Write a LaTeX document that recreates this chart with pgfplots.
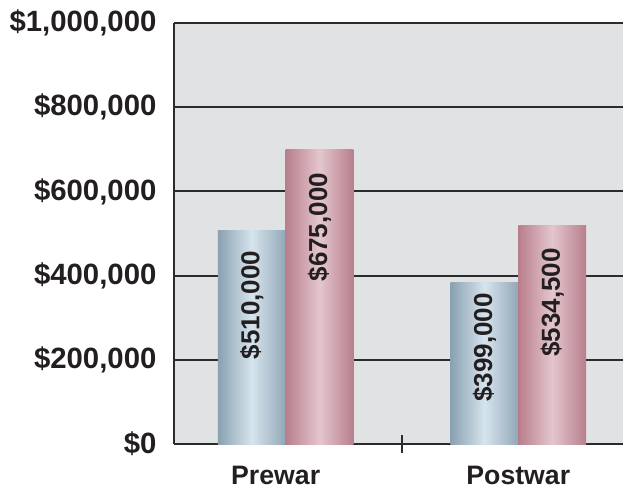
\documentclass[border=0pt]{standalone}
\usepackage{fontspec}
\setmainfont{Liberation Sans}
\usepackage{pgfplots}
\pgfplotsset{compat=1.18}
\definecolor{bg}{HTML}{E1E2E4}
\definecolor{gridc}{HTML}{2B2B2B}
\definecolor{bdark}{HTML}{8AA1B1}
\definecolor{blight}{HTML}{D6E4ED}
\definecolor{pdark}{HTML}{B87E8B}
\definecolor{plight}{HTML}{E4C6CE}
\definecolor{txt}{HTML}{231F20}
\begin{document}
\begin{tikzpicture}
\begin{axis}[
  scale only axis, width=336.75pt, height=315.75pt,
  xmin=-0.480, xmax=1.450, ymin=0, ymax=1000000,
  axis background/.style={fill=bg},
  axis x line*=bottom, axis y line*=left,
  axis line style={-, line width=1.2pt, color=gridc},
  ymajorgrids, major grid style={line width=1.5pt, color=gridc},
  ytick={0,200000,400000,600000,800000,1000000},
  yticklabels={{\$0},{\$200,000},{\$400,000},{\$600,000},{\$800,000},{\$1,000,000}},
  scaled y ticks=false,
  ytick style={draw=none},
  yticklabel style={font=\fontsize{22}{25}\selectfont\bfseries, text=txt, inner sep=0pt, xshift=-6.5pt},
  xtick={0.5}, xticklabels={},
  xtick style={line width=1pt, color=gridc},
  major tick length=13pt, tick align=center,
  extra x ticks={-0.043,1}, extra x tick labels={Prewar,Postwar},
  extra x tick style={major tick length=0pt, xticklabel style={font=\fontsize{20}{23}\selectfont\bfseries, text=txt, anchor=base, inner sep=0pt, yshift=-30pt}},
]
\coordinate (SW) at (rel axis cs:0,0);
\addplot[ybar, bar width=50.8pt, bar shift=-25.4pt, draw=none, left color=bdark, right color=bdark!90!blight, middle color=blight] coordinates {(0,507000)};
\addplot[ybar, bar width=50.8pt, bar shift=-25.4pt, draw=none, left color=bdark, right color=bdark!90!blight, middle color=blight] coordinates {(1,383000)};
\addplot[ybar, bar width=50.8pt, bar shift=25.4pt, draw=none, left color=pdark, right color=pdark, middle color=plight] coordinates {(0,700000)};
\addplot[ybar, bar width=50.8pt, bar shift=25.4pt, draw=none, left color=pdark, right color=pdark, middle color=plight] coordinates {(1,518000)};
\addplot[draw=none, nodes near coords, point meta=explicit symbolic,
  nodes near coords style={rotate=90, anchor=center, inner sep=0pt, font=\fontsize{19.5}{22}\selectfont\bfseries, text=txt}]
  coordinates {(-0.1456,330000) [\$510,000] (0.8544,229000) [\$399,000]};
\addplot[draw=none, nodes near coords, point meta=explicit symbolic,
  nodes near coords style={rotate=90, anchor=center, inner sep=0pt, font=\fontsize{19.5}{22}\selectfont\bfseries, text=txt}]
  coordinates {(0.1456,515000) [\$675,000] (1.1456,336000) [\$534,500]};
\end{axis}
\pgfresetboundingbox
\path[use as bounding box] ([shift={(-130.5pt,-33pt)}]SW) rectangle ([shift={(336.75pt,333pt)}]SW);
\end{tikzpicture}
\end{document}
